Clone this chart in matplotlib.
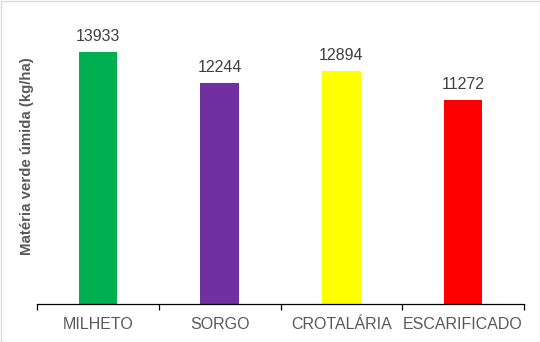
import matplotlib
matplotlib.use("Agg")
import matplotlib.pyplot as plt
from matplotlib.patches import Rectangle

categories = ["MILHETO", "SORGO", "CROTALÁRIA", "ESCARIFICADO"]
values = [13933, 12244, 12894, 11272]
colors = ["#00B050", "#7030A0", "#FFFF00", "#FF0000"]
ylabel = "Matéria verde úmida (kg/ha)"

plt.rcParams["font.family"] = ["Liberation Sans", "DejaVu Sans"]
text_gray = "#595959"

fig = plt.figure(figsize=(5.4, 3.42), dpi=100)
fig.patches.append(Rectangle((0.5 / 540, 0.5 / 342), 1 - 1 / 540, 1 - 1 / 342,
                             transform=fig.transFigure, fill=False,
                             edgecolor="#D9D9D9", linewidth=1.0))

ax = fig.add_axes([37 / 540, 1 - 304 / 342, (524 - 37) / 540, (304 - 15) / 342])
x = list(range(len(categories)))
bars = ax.bar(x, values, width=0.316, color=colors, zorder=2)

for xi, v in zip(x, values):
    ax.annotate(f"{v}", (xi, v), xytext=(0, 6), textcoords="offset points",
                ha="center", va="bottom", fontsize=11.5, color="#404040")

ax.set_xlim(-0.5, len(categories) - 0.5)
ax.set_ylim(0, 16000)
ax.set_yticks([])
for s in ["top", "right", "left"]:
    ax.spines[s].set_visible(False)
ax.spines["bottom"].set_color("black")
ax.spines["bottom"].set_linewidth(0.9)

ax.set_xticks([i - 0.5 for i in range(len(categories) + 1)])
ax.set_xticklabels([])
ax.tick_params(axis="x", which="major", length=4, width=0.9, color="black", direction="out")
ax.set_xticks(x, minor=True)
ax.set_xticklabels(categories, minor=True, fontsize=11.5, color=text_gray)
ax.tick_params(axis="x", which="minor", length=0, pad=9.5)

fig.text(27 / 540, 1 - 156 / 342, ylabel, rotation=90, ha="center", va="center",
         fontsize=10.8, fontweight="bold", color=text_gray)

fig.savefig("out.png", dpi=100)
